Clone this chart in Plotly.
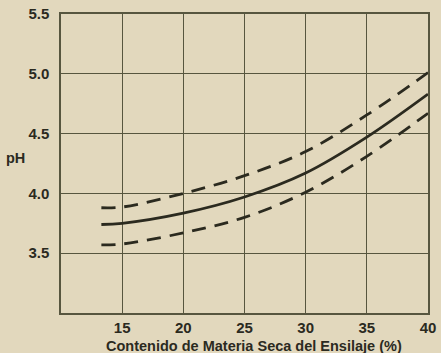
import plotly.graph_objects as go

x_vals = [13.3, 15, 20, 25, 30, 35, 40]
ph_mean = [3.74, 3.75, 3.835, 3.97, 4.17, 4.47, 4.83]
ph_upper = [3.88, 3.886, 4.0, 4.148, 4.35, 4.656, 5.01]
ph_lower = [3.57, 3.577, 3.67, 3.80, 4.01, 4.31, 4.67]

x_ticks = [15, 20, 25, 30, 35, 40]
y_ticks = [3.5, 4.0, 4.5, 5.0, 5.5]

bg = "#e2d8bd"
ink = "#2b2a1f"
grid = "#57563f"
fam = "Liberation Sans, Arial"

fig = go.Figure()
fig.add_trace(go.Scatter(x=x_vals, y=ph_upper, mode="lines", line=dict(color=ink, width=2.8, dash="14px,9px", shape="spline"), showlegend=False))
fig.add_trace(go.Scatter(x=x_vals, y=ph_mean, mode="lines", line=dict(color=ink, width=2.8, shape="spline"), showlegend=False))
fig.add_trace(go.Scatter(x=x_vals, y=ph_lower, mode="lines", line=dict(color=ink, width=2.8, dash="14px,9px", shape="spline"), showlegend=False))

font_b = dict(family=fam, size=15, color=ink, weight="bold")

fig.update_layout(
    width=441, height=353,
    margin=dict(l=61, r=13, t=14, b=40),
    paper_bgcolor=bg, plot_bgcolor=bg,
    xaxis=dict(range=[10, 40], tickvals=x_ticks, ticktext=[str(v) for v in x_ticks],
               showgrid=True, gridcolor=grid, gridwidth=1.2, zeroline=False,
               showline=True, linecolor=grid, linewidth=1.5, mirror=True,
               ticks="", tickfont=font_b, ticklabelstandoff=0, automargin=False),
    yaxis=dict(range=[3.0, 5.5], tickvals=y_ticks, ticktext=["3.5", "4.0", "4.5", "5.0", "5.5"],
               showgrid=True, gridcolor=grid, gridwidth=1.2, zeroline=False,
               showline=True, linecolor=grid, linewidth=1.5, mirror=True,
               ticks="", tickfont=font_b, ticklabelstandoff=7, automargin=False),
    annotations=[
        dict(text="pH", x=0, y=4.30, xref="paper", yref="y", xanchor="left", yanchor="middle",
             xshift=-57, showarrow=False, font=dict(family=fam, size=14.5, color=ink, weight="bold")),
        dict(text="Contenido de Materia Seca del Ensilaje (%)", x=0.526, y=0, xref="paper", yref="paper",
             xanchor="center", yanchor="middle", yshift=-33, showarrow=False,
             font=dict(family=fam, size=14.5, color=ink, weight="bold")),
    ],
)

fig.write_html("out.html", config={"displayModeBar": False},
               post_script="document.body.style.margin='0';document.body.style.background='%s';" % bg)
